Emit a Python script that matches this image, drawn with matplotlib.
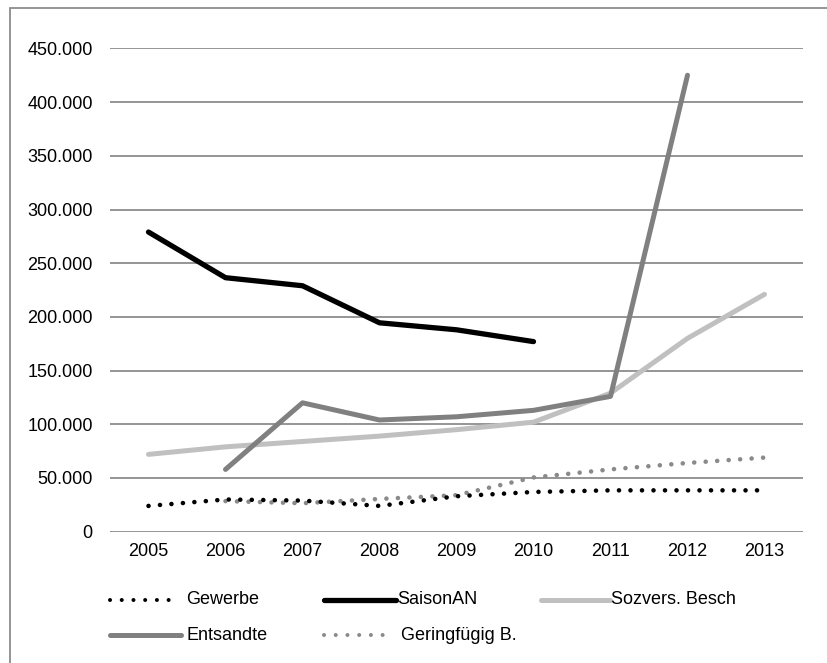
import matplotlib
matplotlib.use("Agg")
import matplotlib.pyplot as plt
from matplotlib.lines import Line2D
from matplotlib.patches import Rectangle
from matplotlib.ticker import FuncFormatter
import numpy as np

years = ["2005", "2006", "2007", "2008", "2009", "2010", "2011", "2012", "2013"]
gewerbe = [24000, 30000, 29000, 24000, 33000, 37000, 38500, 38500, 38500]
saison_an = [279000, 236500, 229000, 194500, 188000, 177000, None, None, None]
sozvers = [72000, 79000, 84000, 89000, 95000, 102000, 129000, 180000, 221000]
entsandte = [None, 58000, 120000, 104000, 107000, 113000, 126000, 425000, None]
geringfuegig = [None, 28500, 26500, 30500, 34000, 50500, 58000, 64000, 69000]

plt.rcParams['font.family'] = ['Liberation Sans', 'DejaVu Sans']

W, H = 828, 663
FS = 13
fig = plt.figure(figsize=(W / 100, H / 100), dpi=100)
ax = fig.add_axes([110 / W, 1 - 531.7 / H, (803 - 110) / W, (531.7 - 48.4) / H])

x = np.arange(len(years))

def arr(v):
    return np.array([np.nan if a is None else a for a in v], dtype=float)

dot_style = (0, (0.01, 2.5))
series = [
    ("Gewerbe", gewerbe, dict(color="black", lw=3.3, linestyle=dot_style, dash_capstyle="round")),
    ("SaisonAN", saison_an, dict(color="black", lw=3.8, solid_capstyle="round", solid_joinstyle="round")),
    ("Sozvers. Besch", sozvers, dict(color="#c0c0c0", lw=3.6, solid_capstyle="round", solid_joinstyle="round")),
    ("Entsandte", entsandte, dict(color="#808080", lw=3.6, solid_capstyle="round", solid_joinstyle="round")),
    ("Geringfügig B.", geringfuegig, dict(color="#8a8a8a", lw=3.3, linestyle=dot_style, dash_capstyle="round")),
]

z = {"Gewerbe": 5, "SaisonAN": 4, "Sozvers. Besch": 2, "Entsandte": 3, "Geringfügig B.": 4}
for name, vals, st in series:
    ax.plot(x, arr(vals), zorder=z[name], **st)

ax.set_xlim(-0.5, len(years) - 0.5)
ax.set_ylim(0, 450000)
ax.set_yticks(np.arange(0, 450001, 50000))
ax.yaxis.set_major_formatter(FuncFormatter(lambda v, p: f"{int(v):,}".replace(",", ".")))
ax.set_xticks(x)
ax.set_xticklabels(years)
ax.grid(axis="y", color="#8c8c8c", lw=1.3)
ax.set_axisbelow(True)
for s in ax.spines.values():
    s.set_visible(False)
ax.tick_params(axis="both", length=0, labelsize=FS, colors="black")
ax.tick_params(axis="y", pad=12.5)
ax.tick_params(axis="x", pad=8)

# outer frame (cropped at right and bottom)
fig.add_artist(Rectangle((9.5 / W, -0.05), 1.2, (1 - 8.5 / H) + 0.05, transform=fig.transFigure,
                         fill=False, edgecolor="#8c8c8c", lw=1.3, clip_on=False))

# legend (manual)
leg_items = [
    (0, 0, 110, 170, 186),
    (1, 0, 324, 396, 397),
    (2, 0, 541, 610, 611),
    (3, 1, 110, 181, 187),
    (4, 1, 324, 384, 401),
]
rows_y = [600, 635]
for idx, row, x0, x1, tx in leg_items:
    name, vals, st = series[idx]
    yy = 1 - rows_y[row] / H
    st2 = dict(st)
    if "linestyle" in st2:
        st2["lw"] = 2.9
        st2["linestyle"] = (0, (0.01, 2.9))
    fig.add_artist(Line2D([x0 / W, x1 / W], [yy, yy], transform=fig.transFigure, **st2))
    fig.text(tx / W, yy, name, ha="left", va="center", fontsize=FS)

fig.savefig("out.png", dpi=100, facecolor="white")
